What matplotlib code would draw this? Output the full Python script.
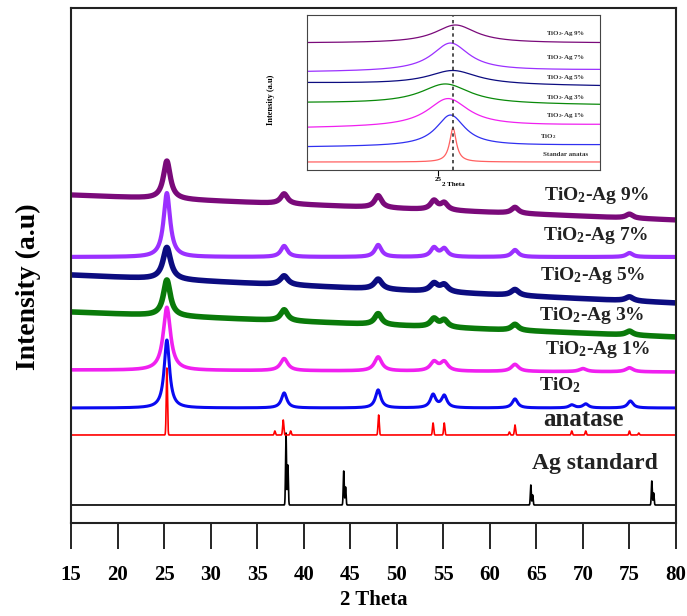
import numpy as np
import matplotlib
matplotlib.use("Agg")
import matplotlib.pyplot as plt

plt.rcParams['font.family'] = ['Liberation Serif', 'DejaVu Serif']
plt.rcParams['font.weight'] = 'bold'
plt.rcParams['axes.labelweight'] = 'bold'
plt.rcParams['mathtext.fontset'] = 'custom'
plt.rcParams['mathtext.rm'] = 'Liberation Serif:bold'
plt.rcParams['mathtext.it'] = 'Liberation Serif:bold'
plt.rcParams['mathtext.bf'] = 'Liberation Serif:bold'

# ---- main pattern data (offsets in plot units, peaks) ----
names = ['Ag standard', 'anatase', 'TiO$_\\mathrm{2}$',
         'TiO$_\\mathrm{2}$-Ag 1%', 'TiO$_\\mathrm{2}$-Ag 3%', 'TiO$_\\mathrm{2}$-Ag 5%',
         'TiO$_\\mathrm{2}$-Ag 7%', 'TiO$_\\mathrm{2}$-Ag 9%']
colors = ['#000000', '#ff0000', '#0a0af0', '#f020f0', '#0a7a0a', '#0c0c80',
          '#9b30ff', '#7a0a7a']
base_left = [111, 181, 208, 246, 304, 341, 359, 421]
base_right = [111, 181, 208, 244, 279, 313, 359, 396]

peak_pos = [
    [38.1, 38.3, 44.3, 44.5, 64.4, 64.6, 77.4, 77.6],
    [25.3, 36.9, 37.8, 38.6, 48.05, 53.9, 55.1, 62.1, 62.7, 68.8, 70.3, 75.0, 76.0],
    [25.3, 37.9, 48.0, 53.9, 55.1, 62.7, 68.8, 70.3, 75.1],
    [25.3, 37.9, 48.0, 54.0, 55.1, 62.7, 70.0, 75.0],
    [25.3, 37.9, 48.0, 54.0, 55.1, 62.7, 75.0],
    [25.3, 37.9, 48.0, 54.0, 55.1, 62.7, 75.0],
    [25.3, 37.9, 48.0, 54.0, 55.1, 62.7, 75.0],
    [25.3, 37.9, 48.0, 54.0, 55.1, 62.7, 75.0],
]
peak_h = [
    [72, 40, 34, 18, 20, 10, 24, 12],
    [67, 4, 15, 4, 20, 12, 12, 3, 10, 4, 4, 4, 2],
    [68, 15, 18, 13, 12, 9, 3, 4, 7],
    [63, 12, 14, 9, 9, 7, 3, 4],
    [36, 11, 11, 8, 7, 6, 4],
    [32, 9, 10, 8, 7, 6, 4],
    [64, 11, 12, 9, 8, 7, 4],
    [38, 10, 12, 9, 7, 6, 4],
]
peak_w = [0.12, 0.15, 0.7, 0.95, 0.9, 1.0, 0.85, 0.9]
line_w = [1.2, 1.2, 2.2, 2.6, 4.0, 4.0, 3.0, 3.8]

label_x = [595, 583, 560, 598, 592, 593, 596, 597]
label_y = [463, 420, 385, 350, 316, 276, 235, 196]
label_size = [17, 18, 14, 14, 14, 14, 14, 14]

# ---- inset data ----
in_base_left = [454, 469, 488, 513, 533, 544, 573]
in_base_right = [454, 471, 491, 511, 530, 546, 573]
in_pos = [25.3, 25.25, 25.2, 25.15, 25.3, 25.25, 25.35]
in_h = [34, 31, 28, 20, 14, 28, 18]
in_w = [0.16, 0.7, 1.0, 1.2, 1.2, 0.9, 1.0]
in_colors = ['#ff6060', '#3030f0', '#f020f0', '#0a8a0a', '#0c0c80', '#9b30ff', '#7a0a7a']
in_labels = ['Standar anatas', 'TiO$_\\mathrm{2}$', 'TiO$_\\mathrm{2}$-Ag 1%',
             'TiO$_\\mathrm{2}$-Ag 3%', 'TiO$_\\mathrm{2}$-Ag 5%',
             'TiO$_\\mathrm{2}$-Ag 7%', 'TiO$_\\mathrm{2}$-Ag 9%']
in_label_y = [155, 137, 116, 97, 78, 58, 33]


def profile(x, left, right, pos, h, w):
    y = left + (right - left) * (x - x[0]) / (x[-1] - x[0])
    for p, a in zip(pos, h):
        y = y + a / (1 + ((x - p) / (w / 2)) ** 2)
    return y


fig = plt.figure(figsize=(6.87, 6.16), dpi=100)
ax = fig.add_axes([71 / 687, 93 / 616, 605 / 687, 515 / 616])
x = np.linspace(15, 80, 6501)

for i in range(len(names)):
    if i < 2:
        y = base_left[i] + np.zeros_like(x)
        for p, a in zip(peak_pos[i], peak_h[i]):
            y = y + a * np.exp(-0.5 * ((x - p) / (peak_w[i] / 2.355)) ** 2)
    else:
        y = profile(x, base_left[i], base_right[i], peak_pos[i], peak_h[i], peak_w[i])
    ax.plot(x, y, color=colors[i], lw=line_w[i], solid_joinstyle='round')
    tx = 15 + (label_x[i] - 71) / 605 * 65
    ax.text(tx, 616 - label_y[i], names[i], fontsize=label_size[i],
            ha='center', va='center', color='#222222')

ax.set_xlim(15, 80)
ax.set_ylim(93, 608)
ax.set_xticks(np.arange(15, 81, 5))
ax.set_yticks([])
ax.tick_params(axis='x', direction='out', length=19, width=1.2, pad=11, labelsize=15)
for s in ax.spines.values():
    s.set_linewidth(1.5)
    s.set_color('#222222')
ax.set_xlabel('2 Theta', fontsize=15, labelpad=4)
ax.set_ylabel('Intensity (a.u)', fontsize=20)
ax.yaxis.set_label_coords(-0.05, 0.458)

# ---- inset ----
ins = fig.add_axes([307 / 687, (616 - 170) / 616, 293 / 687, 155 / 616])
xi = np.linspace(22.38, 28.24, 1200)
for i in range(len(in_pos)):
    yi = profile(xi, in_base_left[i], in_base_right[i], [in_pos[i]], [in_h[i]], in_w[i])
    ins.plot(xi, yi, color=in_colors[i], lw=0.9)
    if i == 1:
        tx = 22.38 + (540 - 307) / 50
        ins.text(tx, 616 - in_label_y[i], in_labels[i], fontsize=5, ha='left',
                 va='center', color='#333333')
    else:
        tx = 22.38 + (566 - 307) / 50
        ins.text(tx, 616 - in_label_y[i], in_labels[i], fontsize=5, ha='center',
                 va='center', color='#333333')
ins.axvline(25.3, color='#333333', ls=(0, (2, 2)), lw=1.2)
ins.set_xlim(22.38, 28.24)
ins.set_ylim(446, 601)
ins.set_xticks([25])
ins.set_yticks([])
ins.tick_params(axis='x', direction='out', length=4, width=0.8, pad=1, labelsize=5)
for s in ins.spines.values():
    s.set_linewidth(0.8)
    s.set_color('#444444')
ins.set_xlabel('2 Theta', fontsize=5, labelpad=0)
ins.set_ylabel('Intensity (a.u)', fontsize=6)
ins.yaxis.set_label_coords(-0.11, 0.45)

fig.savefig('out.png', dpi=100)
